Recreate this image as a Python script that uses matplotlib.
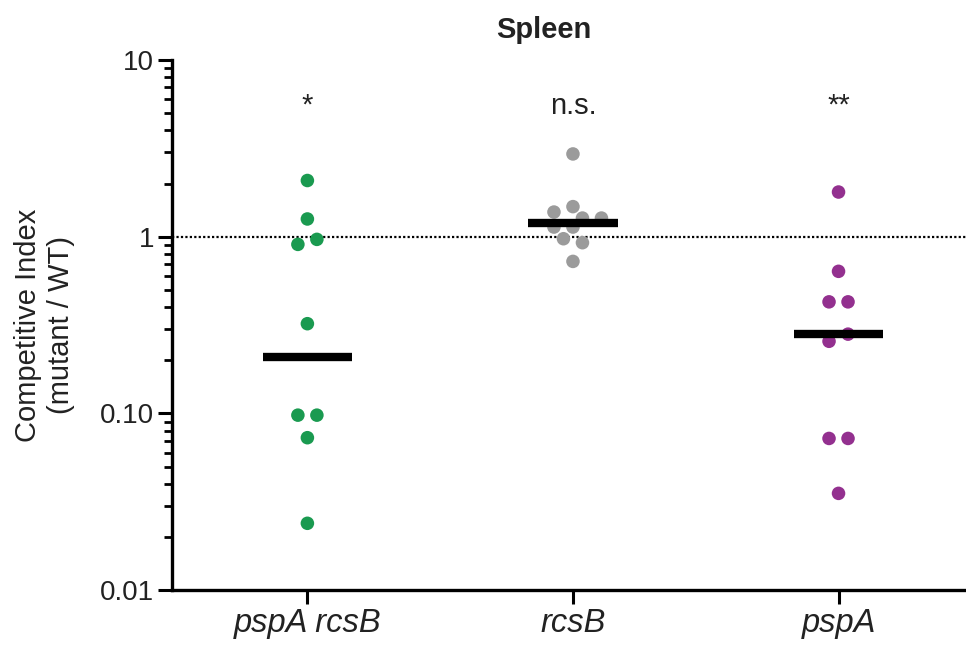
import numpy as np
import matplotlib
matplotlib.use("Agg")
import matplotlib.pyplot as plt
from matplotlib.ticker import FixedLocator, NullFormatter

plt.rcParams['font.family'] = ['Liberation Sans', 'DejaVu Sans']

# data
groups = ["pspA rcsB", "rcsB", "pspA"]
green_vals = [2.08, 1.26, 0.966, 0.905, 0.322, 0.0978, 0.0978, 0.0729, 0.0239]
gray_vals = [2.94, 1.48, 1.379, 1.275, 1.275, 1.134, 1.134, 0.974, 0.925, 0.725]
purple_vals = [1.79, 0.637, 0.428, 0.428, 0.281, 0.256, 0.0722, 0.0722, 0.0353]
medians = [0.209, 1.195, 0.281]
signif = ["*", "n.s.", "**"]
colors = ["#1a9a50", "#9b9b9b", "#93308f"]

series = [green_vals, gray_vals, purple_vals]

fig = plt.figure(figsize=(9.66, 6.45), dpi=100)
ax = fig.add_axes([0.178, 0.085, 0.822, 0.822])
ax.set_yscale('log')
ax.set_ylim(0.01, 10)
ax.set_xlim(-0.51, 2.48)

fig.canvas.draw()

# marker diameter / slot step in pixels
diam = 13.0
step = 9.5
px_per_unit = ax.transData.transform((1, 1))[0] - ax.transData.transform((0, 1))[0]


def swarm_offsets(vals):
    # greedy beeswarm in pixel space, then recentre touching clusters
    ypx = [ax.transData.transform((0, v))[1] for v in vals]
    order = np.argsort(vals)[::-1]
    slots = [0]
    for k in range(1, 8):
        slots += [-k, k]
    off = np.zeros(len(vals))
    placed = []
    for i in order:
        for k in slots:
            x = k * step
            ok = all(np.hypot(x - off[j], ypx[i] - ypx[j]) >= diam * 0.97 for j in placed)
            if ok:
                off[i] = x
                break
        placed.append(i)
    # group by vertical proximity
    srt = sorted(range(len(vals)), key=lambda i: ypx[i])
    grp = [[srt[0]]]
    for a, b in zip(srt[:-1], srt[1:]):
        if abs(ypx[b] - ypx[a]) < diam:
            grp[-1].append(b)
        else:
            grp.append([b])
    for g in grp:
        m = np.mean(off[g])
        off[g] -= m
    return off / px_per_unit


for i, vals in enumerate(series):
    xo = swarm_offsets(vals)
    ax.scatter(i + xo, vals, s=95, color=colors[i], edgecolors='none', zorder=3)
    ax.plot([i - 0.168, i + 0.168], [medians[i], medians[i]], color='black',
            lw=6, solid_capstyle='butt', zorder=4)
    ax.text(i, 5.5, signif[i], ha='center', va='center', fontsize=21, color='#222222')

ax.axhline(1, color='black', lw=1.6, ls=(0, (1, 1)), zorder=1)

ax.set_xticks(range(3))
ax.set_xticklabels(groups, fontsize=23.5, style='italic', color='#222222')
ax.set_yticks([0.01, 0.1, 1, 10])
ax.set_yticklabels(["0.01", "0.10", "1", "10"], fontsize=20, color='#222222')
minors = [m * 10.0 ** e for e in (-2, -1, 0) for m in range(2, 10)]
ax.yaxis.set_minor_locator(FixedLocator(minors))
ax.yaxis.set_minor_formatter(NullFormatter())

ax.tick_params(axis='both', which='major', length=10, width=2.2, pad=3)
ax.tick_params(axis='y', which='minor', length=6, width=2)
ax.tick_params(axis='x', which='minor', length=0)

for side in ('top', 'right'):
    ax.spines[side].set_visible(False)
for side in ('left', 'bottom'):
    ax.spines[side].set_linewidth(2.4)

ax.set_ylabel("Competitive Index\n(mutant / WT)", fontsize=21, color='#222222', labelpad=18)
ax.set_title("Spleen", fontsize=21, fontweight='bold', color='#222222', pad=16, x=0.4685)

fig.savefig("out.png", dpi=100)
